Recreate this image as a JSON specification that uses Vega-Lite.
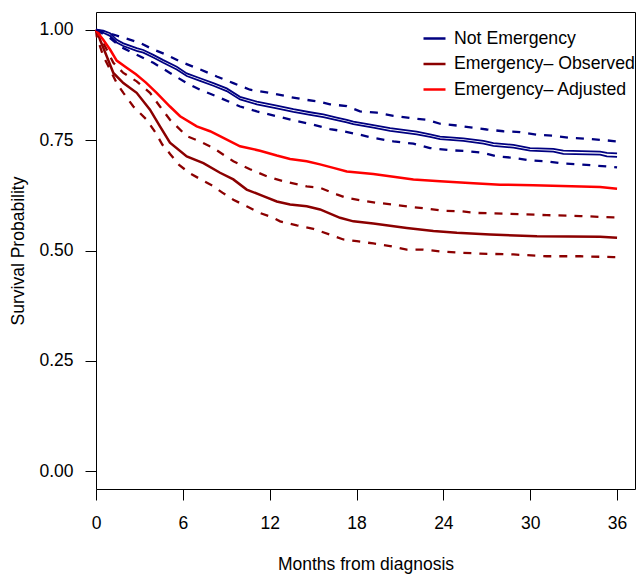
{
  "$schema": "https://vega.github.io/schema/vega-lite/v6.json",
  "width": 539,
  "height": 477,
  "autosize": {"type": "none"},
  "padding": {"left": 96, "top": 12, "right": 4, "bottom": 86},
  "background": "white",
  "config": {
    "view": {"stroke": "black", "strokeWidth": 1},
    "font": "Liberation Sans",
    "axis": {
      "grid": false, "domain": false, "tickColor": "black", "tickSize": 11, "tickWidth": 1,
      "labelFont": "Liberation Sans", "labelFontSize": 17.5, "labelColor": "black",
      "titleFont": "Liberation Sans", "titleFontSize": 17.5, "titleFontWeight": "normal", "titleColor": "black",
      "labelFlush": false, "labelOverlap": false
    },
    "legend": {
      "labelFont": "Liberation Sans", "labelFontSize": 17.7, "labelColor": "black", "labelLimit": 400
    }
  },
  "data": {"values": [
    {"s":"NEa","m":0,"v":1.0},{"s":"NEa","m":0.5,"v":0.998},{"s":"NEa","m":0.97,"v":0.992},{"s":"NEa","m":1.43,"v":0.977},{"s":"NEa","m":1.89,"v":0.969},{"s":"NEa","m":2.81,"v":0.958},{"s":"NEa","m":3.27,"v":0.954},{"s":"NEa","m":3.96,"v":0.943},{"s":"NEa","m":4.65,"v":0.931},{"s":"NEa","m":5.58,"v":0.916},{"s":"NEa","m":6.27,"v":0.901},{"s":"NEa","m":7.19,"v":0.89},{"s":"NEa","m":8.11,"v":0.879},{"s":"NEa","m":9.03,"v":0.867},{"s":"NEa","m":9.95,"v":0.848},{"s":"NEa","m":11.11,"v":0.837},{"s":"NEa","m":12.49,"v":0.828},{"s":"NEa","m":13.64,"v":0.82},{"s":"NEa","m":14.79,"v":0.813},{"s":"NEa","m":15.71,"v":0.808},{"s":"NEa","m":16.63,"v":0.801},{"s":"NEa","m":17.33,"v":0.796},{"s":"NEa","m":17.78,"v":0.792},{"s":"NEa","m":19.16,"v":0.784},{"s":"NEa","m":20.32,"v":0.777},{"s":"NEa","m":22.16,"v":0.769},{"s":"NEa","m":23.08,"v":0.763},{"s":"NEa","m":23.77,"v":0.758},{"s":"NEa","m":25.38,"v":0.754},{"s":"NEa","m":26.77,"v":0.748},{"s":"NEa","m":27.46,"v":0.743},{"s":"NEa","m":28.84,"v":0.739},{"s":"NEa","m":29.99,"v":0.732},{"s":"NEa","m":31.6,"v":0.73},{"s":"NEa","m":32.29,"v":0.726},{"s":"NEa","m":34.83,"v":0.724},{"s":"NEa","m":35.3,"v":0.721},{"s":"NEa","m":36,"v":0.72},
    {"s":"NEb","m":0,"v":1.0},{"s":"NEb","m":0.5,"v":0.993},{"s":"NEb","m":0.97,"v":0.986},{"s":"NEb","m":1.43,"v":0.971},{"s":"NEb","m":1.89,"v":0.963},{"s":"NEb","m":2.81,"v":0.952},{"s":"NEb","m":3.27,"v":0.948},{"s":"NEb","m":3.96,"v":0.937},{"s":"NEb","m":4.65,"v":0.925},{"s":"NEb","m":5.58,"v":0.91},{"s":"NEb","m":6.27,"v":0.895},{"s":"NEb","m":7.19,"v":0.884},{"s":"NEb","m":8.11,"v":0.873},{"s":"NEb","m":9.03,"v":0.861},{"s":"NEb","m":9.95,"v":0.842},{"s":"NEb","m":11.11,"v":0.831},{"s":"NEb","m":12.49,"v":0.822},{"s":"NEb","m":13.64,"v":0.814},{"s":"NEb","m":14.79,"v":0.807},{"s":"NEb","m":15.71,"v":0.802},{"s":"NEb","m":16.63,"v":0.795},{"s":"NEb","m":17.33,"v":0.79},{"s":"NEb","m":17.78,"v":0.786},{"s":"NEb","m":19.16,"v":0.778},{"s":"NEb","m":20.32,"v":0.771},{"s":"NEb","m":22.16,"v":0.763},{"s":"NEb","m":23.08,"v":0.757},{"s":"NEb","m":23.77,"v":0.752},{"s":"NEb","m":25.38,"v":0.748},{"s":"NEb","m":26.77,"v":0.742},{"s":"NEb","m":27.46,"v":0.737},{"s":"NEb","m":28.84,"v":0.733},{"s":"NEb","m":29.99,"v":0.726},{"s":"NEb","m":31.6,"v":0.724},{"s":"NEb","m":32.29,"v":0.719},{"s":"NEb","m":34.83,"v":0.717},{"s":"NEb","m":35.3,"v":0.713},{"s":"NEb","m":36,"v":0.712},
    {"s":"NEu","m":0,"v":1.0},{"s":"NEu","m":0.74,"v":0.992},{"s":"NEu","m":1.2,"v":0.989},{"s":"NEu","m":3.04,"v":0.97},{"s":"NEu","m":3.96,"v":0.955},{"s":"NEu","m":4.89,"v":0.943},{"s":"NEu","m":5.81,"v":0.928},{"s":"NEu","m":7.19,"v":0.91},{"s":"NEu","m":8.34,"v":0.894},{"s":"NEu","m":9.49,"v":0.879},{"s":"NEu","m":10.64,"v":0.864},{"s":"NEu","m":12.02,"v":0.857},{"s":"NEu","m":13.18,"v":0.849},{"s":"NEu","m":14.33,"v":0.842},{"s":"NEu","m":15.25,"v":0.838},{"s":"NEu","m":16.17,"v":0.831},{"s":"NEu","m":17.33,"v":0.827},{"s":"NEu","m":18.24,"v":0.815},{"s":"NEu","m":19.4,"v":0.812},{"s":"NEu","m":20.55,"v":0.805},{"s":"NEu","m":21.7,"v":0.8},{"s":"NEu","m":22.85,"v":0.796},{"s":"NEu","m":23.77,"v":0.787},{"s":"NEu","m":24.93,"v":0.783},{"s":"NEu","m":27.0,"v":0.774},{"s":"NEu","m":28.15,"v":0.77},{"s":"NEu","m":29.3,"v":0.768},{"s":"NEu","m":30.46,"v":0.762},{"s":"NEu","m":31.6,"v":0.76},{"s":"NEu","m":32.76,"v":0.755},{"s":"NEu","m":33.91,"v":0.753},{"s":"NEu","m":35.06,"v":0.75},{"s":"NEu","m":36,"v":0.747},
    {"s":"NEl","m":0,"v":1.0},{"s":"NEl","m":0.97,"v":0.981},{"s":"NEl","m":1.66,"v":0.962},{"s":"NEl","m":2.58,"v":0.947},{"s":"NEl","m":3.96,"v":0.925},{"s":"NEl","m":5.11,"v":0.902},{"s":"NEl","m":6.27,"v":0.879},{"s":"NEl","m":7.19,"v":0.864},{"s":"NEl","m":8.34,"v":0.849},{"s":"NEl","m":9.95,"v":0.826},{"s":"NEl","m":11.11,"v":0.815},{"s":"NEl","m":12.49,"v":0.804},{"s":"NEl","m":13.87,"v":0.793},{"s":"NEl","m":15.02,"v":0.785},{"s":"NEl","m":16.17,"v":0.775},{"s":"NEl","m":17.09,"v":0.77},{"s":"NEl","m":18.24,"v":0.762},{"s":"NEl","m":19.16,"v":0.755},{"s":"NEl","m":20.55,"v":0.747},{"s":"NEl","m":21.93,"v":0.742},{"s":"NEl","m":23.08,"v":0.732},{"s":"NEl","m":24.46,"v":0.727},{"s":"NEl","m":25.62,"v":0.725},{"s":"NEl","m":26.77,"v":0.721},{"s":"NEl","m":27.69,"v":0.713},{"s":"NEl","m":28.84,"v":0.71},{"s":"NEl","m":29.99,"v":0.704},{"s":"NEl","m":31.15,"v":0.702},{"s":"NEl","m":32.29,"v":0.697},{"s":"NEl","m":33.45,"v":0.695},{"s":"NEl","m":34.6,"v":0.692},{"s":"NEl","m":35.75,"v":0.689},{"s":"NEl","m":36,"v":0.688},
    {"s":"EO","m":0,"v":1.0},{"s":"EO","m":0.09,"v":0.996},{"s":"EO","m":0.28,"v":0.977},{"s":"EO","m":0.74,"v":0.94},{"s":"EO","m":1.2,"v":0.902},{"s":"EO","m":1.89,"v":0.879},{"s":"EO","m":2.81,"v":0.857},{"s":"EO","m":3.73,"v":0.819},{"s":"EO","m":4.42,"v":0.781},{"s":"EO","m":5.11,"v":0.744},{"s":"EO","m":6.27,"v":0.713},{"s":"EO","m":7.42,"v":0.698},{"s":"EO","m":8.57,"v":0.676},{"s":"EO","m":9.49,"v":0.661},{"s":"EO","m":10.41,"v":0.638},{"s":"EO","m":11.56,"v":0.623},{"s":"EO","m":12.49,"v":0.611},{"s":"EO","m":13.41,"v":0.604},{"s":"EO","m":14.56,"v":0.6},{"s":"EO","m":15.48,"v":0.593},{"s":"EO","m":16.86,"v":0.574},{"s":"EO","m":17.78,"v":0.566},{"s":"EO","m":19.16,"v":0.561},{"s":"EO","m":21.47,"v":0.551},{"s":"EO","m":23.31,"v":0.544},{"s":"EO","m":24.93,"v":0.54},{"s":"EO","m":27.23,"v":0.536},{"s":"EO","m":30.46,"v":0.532},{"s":"EO","m":34.83,"v":0.531},{"s":"EO","m":36,"v":0.529},
    {"s":"EA","m":0,"v":1.0},{"s":"EA","m":0.05,"v":0.996},{"s":"EA","m":0.5,"v":0.977},{"s":"EA","m":0.97,"v":0.955},{"s":"EA","m":1.43,"v":0.93},{"s":"EA","m":2.07,"v":0.915},{"s":"EA","m":2.76,"v":0.899},{"s":"EA","m":3.45,"v":0.88},{"s":"EA","m":4.19,"v":0.857},{"s":"EA","m":5.11,"v":0.826},{"s":"EA","m":5.81,"v":0.804},{"s":"EA","m":6.96,"v":0.781},{"s":"EA","m":7.88,"v":0.77},{"s":"EA","m":8.8,"v":0.755},{"s":"EA","m":9.95,"v":0.736},{"s":"EA","m":11.33,"v":0.726},{"s":"EA","m":12.49,"v":0.715},{"s":"EA","m":13.41,"v":0.707},{"s":"EA","m":14.56,"v":0.702},{"s":"EA","m":15.48,"v":0.695},{"s":"EA","m":16.4,"v":0.687},{"s":"EA","m":17.33,"v":0.679},{"s":"EA","m":19.16,"v":0.673},{"s":"EA","m":20.55,"v":0.667},{"s":"EA","m":21.93,"v":0.661},{"s":"EA","m":23.77,"v":0.657},{"s":"EA","m":26.08,"v":0.652},{"s":"EA","m":27.92,"v":0.649},{"s":"EA","m":30.22,"v":0.648},{"s":"EA","m":34.83,"v":0.644},{"s":"EA","m":36,"v":0.64},
    {"s":"EOu","m":0,"v":1.0},{"s":"EOu","m":0.16,"v":0.996},{"s":"EOu","m":0.39,"v":0.977},{"s":"EOu","m":0.74,"v":0.955},{"s":"EOu","m":1.2,"v":0.925},{"s":"EOu","m":1.89,"v":0.902},{"s":"EOu","m":2.81,"v":0.883},{"s":"EOu","m":3.73,"v":0.857},{"s":"EOu","m":4.42,"v":0.826},{"s":"EOu","m":5.11,"v":0.796},{"s":"EOu","m":6.27,"v":0.759},{"s":"EOu","m":7.19,"v":0.747},{"s":"EOu","m":8.11,"v":0.732},{"s":"EOu","m":9.49,"v":0.702},{"s":"EOu","m":10.64,"v":0.684},{"s":"EOu","m":11.8,"v":0.668},{"s":"EOu","m":12.94,"v":0.657},{"s":"EOu","m":14.56,"v":0.645},{"s":"EOu","m":15.48,"v":0.642},{"s":"EOu","m":16.63,"v":0.627},{"s":"EOu","m":17.33,"v":0.619},{"s":"EOu","m":18.24,"v":0.614},{"s":"EOu","m":19.4,"v":0.608},{"s":"EOu","m":20.55,"v":0.604},{"s":"EOu","m":21.7,"v":0.599},{"s":"EOu","m":22.85,"v":0.595},{"s":"EOu","m":24.0,"v":0.59},{"s":"EOu","m":25.15,"v":0.589},{"s":"EOu","m":26.31,"v":0.585},{"s":"EOu","m":28.61,"v":0.583},{"s":"EOu","m":31.15,"v":0.58},{"s":"EOu","m":33.45,"v":0.578},{"s":"EOu","m":35.75,"v":0.575},{"s":"EOu","m":36,"v":0.575},
    {"s":"EOl","m":0,"v":1.0},{"s":"EOl","m":0.05,"v":0.985},{"s":"EOl","m":0.28,"v":0.962},{"s":"EOl","m":0.5,"v":0.94},{"s":"EOl","m":0.97,"v":0.91},{"s":"EOl","m":1.43,"v":0.879},{"s":"EOl","m":1.89,"v":0.857},{"s":"EOl","m":2.58,"v":0.826},{"s":"EOl","m":3.5,"v":0.796},{"s":"EOl","m":4.13,"v":0.766},{"s":"EOl","m":4.58,"v":0.74},{"s":"EOl","m":5.16,"v":0.717},{"s":"EOl","m":5.74,"v":0.694},{"s":"EOl","m":6.43,"v":0.676},{"s":"EOl","m":7.24,"v":0.661},{"s":"EOl","m":8.04,"v":0.647},{"s":"EOl","m":8.73,"v":0.631},{"s":"EOl","m":9.49,"v":0.615},{"s":"EOl","m":10.41,"v":0.6},{"s":"EOl","m":11.33,"v":0.585},{"s":"EOl","m":12.25,"v":0.574},{"s":"EOl","m":12.72,"v":0.566},{"s":"EOl","m":13.87,"v":0.557},{"s":"EOl","m":15.02,"v":0.549},{"s":"EOl","m":16.17,"v":0.536},{"s":"EOl","m":17.09,"v":0.525},{"s":"EOl","m":18.02,"v":0.521},{"s":"EOl","m":19.16,"v":0.516},{"s":"EOl","m":20.32,"v":0.51},{"s":"EOl","m":21.47,"v":0.502},{"s":"EOl","m":22.62,"v":0.502},{"s":"EOl","m":23.77,"v":0.498},{"s":"EOl","m":25.15,"v":0.495},{"s":"EOl","m":26.54,"v":0.493},{"s":"EOl","m":28.84,"v":0.491},{"s":"EOl","m":31.15,"v":0.487},{"s":"EOl","m":33.45,"v":0.487},{"s":"EOl","m":35.75,"v":0.485},{"s":"EOl","m":36,"v":0.485}
  ]},
  "transform": [
    {"lookup": "s", "from": {"data": {"values": [
      {"s":"NEa","g":"Not Emergency","k":"est"},
      {"s":"NEb","g":"Not Emergency","k":"est"},
      {"s":"NEu","g":"Not Emergency","k":"ci"},
      {"s":"NEl","g":"Not Emergency","k":"ci"},
      {"s":"EO","g":"Emergency– Observed","k":"est"},
      {"s":"EOu","g":"Emergency– Observed","k":"ci"},
      {"s":"EOl","g":"Emergency– Observed","k":"ci"},
      {"s":"EA","g":"Emergency– Adjusted","k":"est"}
    ]}, "key": "s", "fields": ["g", "k"]}}
  ],
  "encoding": {
    "x": {"field": "m", "type": "quantitative",
      "scale": {"domain": [0, 37.24], "nice": false, "zero": false},
      "axis": {"values": [0, 6, 12, 18, 24, 30, 36], "title": "Months from diagnosis", "labelPadding": 14, "titlePadding": 24}},
    "y": {"field": "v", "type": "quantitative",
      "scale": {"domain": [-0.04, 1.04], "nice": false, "zero": false},
      "axis": {"values": [0, 0.25, 0.5, 0.75, 1], "format": ".2f", "title": "Survival Probability", "labelPadding": 12, "titlePadding": 11}},
    "color": {"field": "g", "type": "nominal",
      "scale": {"domain": ["Not Emergency", "Emergency– Observed", "Emergency– Adjusted"], "range": ["#000080", "#8B0000", "#FF0000"]},
      "legend": {"title": null, "orient": "none", "legendX": 326, "legendY": 14, "symbolType": "stroke", "symbolSize": 484, "symbolStrokeWidth": 2.5, "labelOffset": 7, "rowPadding": 3.5, "padding": 0}},
    "detail": {"field": "s", "type": "nominal"}
  },
  "layer": [
    {"transform": [{"filter": "datum.k == 'ci'"}], "mark": {"type": "line", "strokeWidth": 2.3, "strokeDash": [8, 8]}},
    {"transform": [{"filter": "datum.s == 'EO' || datum.s == 'EA'"}], "mark": {"type": "line", "strokeWidth": 2.5}},
    {"transform": [{"filter": "datum.s == 'NEa' || datum.s == 'NEb'"}], "mark": {"type": "line", "strokeWidth": 1.8}}
  ]
}
